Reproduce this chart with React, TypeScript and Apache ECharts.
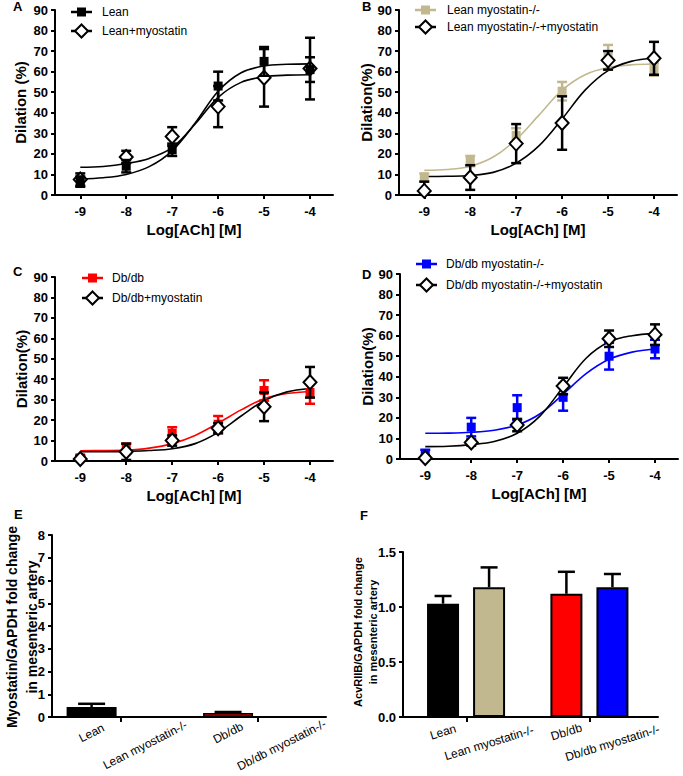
import React, { useEffect, useRef } from 'react';
import * as echarts from 'echarts';

// ---- data ----
const doses = [-9, -8, -7, -6, -5, -4];
const doseTicks = [-9, -8, -7, -6, -5, -4];
const curveX = [-9, -8.5, -8, -7.5, -7, -6.5, -6, -5.5, -5, -4.5, -4];

const aLeanMean = [6.5, 14, 22, 53, 65, 61];
const aLeanSem = [2.5, 3, 3, 7, 7, 6];
const aLeanCurve = [7.8, 8.4, 10, 13.8, 21.5, 35, 50.5, 59.5, 62.8, 63.6, 63.8];
const aMyoMean = [7.5, 18.5, 28.5, 43, 57, 61.5];
const aMyoSem = [3, 3, 4.5, 10, 14, 15];
const aMyoCurve = [13.5, 13.9, 15.3, 17.8, 23, 34.5, 47.5, 54.8, 57.5, 58.3, 58.5];

const bKoMean = [8.5, 16.5, 29, 50.5, 67, 61];
const bKoSem = [2, 2.5, 3.5, 4.5, 6, 3];
const bKoCurve = [12, 12.4, 14, 18.5, 27, 39, 51, 58.5, 62, 63.3, 63.7];
const bKoMyoMean = [2, 8.5, 25, 35, 65.5, 66.5];
const bKoMyoSem = [4.5, 6, 9.5, 13, 4.5, 8];
const bKoMyoCurve = [9, 9.1, 9.5, 11, 15.5, 24, 37, 51, 60.5, 65, 66.5];

const cDbMean = [1.5, 6, 13.5, 18, 34.5, 33.5];
const cDbSem = [1.5, 2.5, 3, 4, 5, 5.5];
const cDbCurve = [5, 5.1, 5.3, 6.3, 8.5, 12.5, 18.5, 25, 30.5, 33, 34];
const cDbMyoMean = [1, 4.5, 10, 16, 26.5, 38.5];
const cDbMyoSem = [1.5, 4, 2.5, 2.5, 7, 7.5];
const cDbMyoCurve = [4.5, 4.5, 4.7, 5.1, 6, 8.5, 14, 22, 29.5, 33.8, 35.5];

const dKoMean = [2.5, 15.5, 25, 30, 50, 53.5];
const dKoSem = [2, 4.5, 6, 6.5, 6.5, 4.5];
const dKoCurve = [12.5, 12.6, 13, 14, 16.5, 22, 31.5, 41.5, 48.5, 52, 53.5];
const dKoMyoMean = [0.5, 8, 16.5, 35.5, 58.5, 60.5];
const dKoMyoSem = [1, 1.5, 3, 4, 4, 5];
const dKoMyoCurve = [6, 6.2, 7, 8.5, 12.5, 21, 35, 49, 57, 60, 61];

const barCategories = ['Lean', 'Lean myostatin-/-', 'Db/db', 'Db/db myostatin-/-'];
const barColors = ['#000000', '#c2b88f', '#ff0000', '#0000ff'];
const eMean = [0.44, 0, 0.18, 0];
const eSem = [0.14, 0, 0.04, 0];
const fMean = [1.03, 1.18, 1.12, 1.18];
const fSem = [0.07, 0.18, 0.2, 0.12];

// ---- styling / layout ----
const FONT = '"Liberation Sans", Arial, sans-serif';
const TAN = '#c2b88f';

const errRender = (cap: number, width: number, color: string, both: boolean) => (params: any, api: any) => {
  const x = api.value(0);
  const lo = api.value(1);
  const hi = api.value(2);
  const p1 = api.coord([x, lo]);
  const p2 = api.coord([x, hi]);
  const style = { stroke: color, lineWidth: width, fill: 'none' };
  const children: any[] = [
    { type: 'line', shape: { x1: p1[0], y1: p1[1], x2: p2[0], y2: p2[1] }, style },
    { type: 'line', shape: { x1: p2[0] - cap / 2, y1: p2[1], x2: p2[0] + cap / 2, y2: p2[1] }, style },
  ];
  if (both) children.push({ type: 'line', shape: { x1: p1[0] - cap / 2, y1: p1[1], x2: p1[0] + cap / 2, y2: p1[1] }, style });
  return { type: 'group', children };
};

type Grp = { name: string; color: string; mean: number[]; sem: number[]; curve: number[] };
type LinePanel = {
  letter: string; lx: number; ly: number;
  grid: { left: number; top: number; width: number; height: number };
  yName: string; yGap: number;
  sq: Grp; dm: Grp; squaresOnTop: boolean;
  legend: { x: number; y: number; step: number; tx: number };
};

const linePanels: LinePanel[] = [
  {
    letter: 'A', lx: 18, ly: 7, grid: { left: 55, top: 10, width: 278, height: 185 }, yName: 'Dilation (%)', yGap: 27,
    sq: { name: 'Lean', color: '#000', mean: aLeanMean, sem: aLeanSem, curve: aLeanCurve },
    dm: { name: 'Lean+myostatin', color: '#000', mean: aMyoMean, sem: aMyoSem, curve: aMyoCurve },
    squaresOnTop: true, legend: { x: 71, y: 12, step: 19, tx: 102 },
  },
  {
    letter: 'B', lx: 367, ly: 7, grid: { left: 399, top: 10, width: 278, height: 185 }, yName: 'Dilation(%)', yGap: 24,
    sq: { name: 'Lean myostatin-/-', color: TAN, mean: bKoMean, sem: bKoSem, curve: bKoCurve },
    dm: { name: 'Lean myostatin-/-+myostatin', color: '#000', mean: bKoMyoMean, sem: bKoMyoSem, curve: bKoMyoCurve },
    squaresOnTop: false, legend: { x: 415, y: 10, step: 17, tx: 447 },
  },
  {
    letter: 'C', lx: 18, ly: 272, grid: { left: 55, top: 277, width: 278, height: 184 }, yName: 'Dilation(%)', yGap: 26,
    sq: { name: 'Db/db', color: '#ff0000', mean: cDbMean, sem: cDbSem, curve: cDbCurve },
    dm: { name: 'Db/db+myostatin', color: '#000', mean: cDbMyoMean, sem: cDbMyoSem, curve: cDbMyoCurve },
    squaresOnTop: false, legend: { x: 82, y: 278, step: 20, tx: 112 },
  },
  {
    letter: 'D', lx: 367, ly: 275, grid: { left: 400, top: 274, width: 278, height: 185 }, yName: 'Dilation(%)', yGap: 24,
    sq: { name: 'Db/db myostatin-/-', color: '#0000ff', mean: dKoMean, sem: dKoSem, curve: dKoCurve },
    dm: { name: 'Db/db myostatin-/-+myostatin', color: '#000', mean: dKoMyoMean, sem: dKoMyoSem, curve: dKoMyoCurve },
    squaresOnTop: false, legend: { x: 416, y: 264, step: 21, tx: 446 },
  },
];

const barPos = (gap: number) => barCategories.map((_, i) => i + (i >= 2 ? gap : 0));
const ePos = barPos(0.55);
const fPos = barPos(0.68);

const axisLineStyle = { color: '#000', width: 2 };

function buildOption() {
  const grid: any[] = [];
  const xAxis: any[] = [];
  const yAxis: any[] = [];
  const series: any[] = [];
  const graphic: any[] = [];

  linePanels.forEach((p, i) => {
    grid.push({ ...p.grid, outerBoundsMode: 'none', containLabel: false });
    xAxis.push({
      type: 'value', gridIndex: i, min: -9.55, max: -3.5,
      axisLine: { show: true, onZero: false, lineStyle: axisLineStyle },
      axisTick: { show: true, length: 4, lineStyle: { width: 2, color: '#000' }, customValues: doseTicks },
      axisLabel: { customValues: doseTicks, color: '#000', fontWeight: 'bold', fontSize: 13, margin: 10, fontFamily: FONT },
      splitLine: { show: false },
      name: 'Log[ACh] [M]', nameLocation: 'middle', nameGap: 27,
      nameTextStyle: { fontWeight: 'bold', fontSize: 15, color: '#000', fontFamily: FONT },
    });
    yAxis.push({
      type: 'value', gridIndex: i, min: 0, max: 90, interval: 10,
      axisLine: { show: true, onZero: false, lineStyle: axisLineStyle },
      axisTick: { show: true, length: 4, lineStyle: { width: 2, color: '#000' } },
      axisLabel: { color: '#000', fontWeight: 'bold', fontSize: 13, margin: 7, fontFamily: FONT },
      splitLine: { show: false },
      name: p.yName, nameLocation: 'middle', nameGap: p.yGap,
      nameTextStyle: { fontWeight: 'bold', fontSize: 15, color: '#000', fontFamily: FONT },
    });
    const ax = { xAxisIndex: i, yAxisIndex: i };
    [p.sq, p.dm].forEach((g) => {
      series.push({
        type: 'line', ...ax, name: g.name + ' fit', data: curveX.map((x, k) => [x, g.curve[k]]),
        smooth: 0.35, symbol: 'none', silent: true, z: 2,
        lineStyle: { color: g.color, width: 1.6 },
      });
    });
    const sqZ = p.squaresOnTop ? 6 : 3;
    const dmZ = p.squaresOnTop ? 3 : 6;
    series.push({
      type: 'custom', ...ax, name: p.sq.name + ' sem', clip: true, z: sqZ, silent: true,
      renderItem: errRender(10, 2.5, p.sq.color, true),
      data: doses.map((x, k) => [x, p.sq.mean[k] - p.sq.sem[k], p.sq.mean[k] + p.sq.sem[k]]),
    });
    series.push({
      type: 'scatter', ...ax, name: p.sq.name, symbol: 'rect', symbolSize: 9, z: sqZ + 1, silent: true,
      itemStyle: { color: p.sq.color, opacity: 1 },
      data: doses.map((x, k) => [x, p.sq.mean[k]]),
    });
    series.push({
      type: 'custom', ...ax, name: p.dm.name + ' sem', clip: true, z: dmZ, silent: true,
      renderItem: errRender(10, 2.5, p.dm.color, true),
      data: doses.map((x, k) => [x, p.dm.mean[k] - p.dm.sem[k], p.dm.mean[k] + p.dm.sem[k]]),
    });
    series.push({
      type: 'scatter', ...ax, name: p.dm.name, symbol: 'diamond', symbolSize: [13, 14], z: dmZ + 1, silent: true,
      itemStyle: { color: '#fff', borderColor: '#000', borderWidth: 2, opacity: 1 },
      data: doses.map((x, k) => [x, p.dm.mean[k]]),
    });

    // panel letter
    graphic.push({ type: 'text', left: p.lx - 5, top: p.ly - 7, style: { text: p.letter, fontSize: 13, fontWeight: 'bold', fontFamily: FONT, fill: '#000' } });
    // legend
    const L = p.legend;
    const y1 = L.y, y2 = L.y + L.step;
    const cx = L.x + 10.5;
    graphic.push({ type: 'line', shape: { x1: L.x, y1, x2: L.x + 21, y2: y1 }, style: { stroke: p.sq.color, lineWidth: 2.5 } });
    graphic.push({ type: 'rect', shape: { x: cx - 4.5, y: y1 - 4.5, width: 9, height: 9 }, style: { fill: p.sq.color } });
    graphic.push({ type: 'text', x: L.tx, y: y1, style: { text: p.sq.name, fontSize: 12, fontFamily: FONT, fill: '#000', verticalAlign: 'middle' } });
    graphic.push({ type: 'line', shape: { x1: L.x, y1: y2, x2: L.x + 21, y2 }, style: { stroke: '#000', lineWidth: 2.5 } });
    graphic.push({ type: 'polygon', shape: { points: [[cx, y2 - 6.5], [cx + 6.5, y2], [cx, y2 + 6.5], [cx - 6.5, y2]] }, style: { fill: '#fff', stroke: '#000', lineWidth: 2 } });
    graphic.push({ type: 'text', x: L.tx, y: y2, style: { text: p.dm.name, fontSize: 12, fontFamily: FONT, fill: '#000', verticalAlign: 'middle' } });
  });

  // ---- bar panels ----
  const barPanels = [
    {
      letter: 'E', lx: 19, ly: 515, grid: { left: 52, top: 535, width: 274, height: 182 }, pos: ePos,
      min: -0.74, max: 4.38, ticks: [ePos[0] + 0.55, ePos[2] + 0.55], mean: eMean, sem: eSem,
      yMax: 8, yInt: 1, fmt: (v: number) => String(v), barWidth: 50, cap: 27, border: 1.5, rotate: 27,
      shortMargin: 16, longMargin: 28, labelFont: 12,
      yLines: ['Myostatin/GAPDH fold change', 'in mesenteric artery'], yFont: 14, yLineX: [12, 32], ty: 627,
    },
    {
      letter: 'F', lx: 365, ly: 516, grid: { left: 403, top: 552, width: 255, height: 165 }, pos: fPos,
      min: -0.87, max: 4.67, ticks: [fPos[0] + 0.52, fPos[2] + 0.5], mean: fMean, sem: fSem,
      yMax: 1.5, yInt: 0.5, fmt: (v: number) => v.toFixed(1), barWidth: 32, cap: 17, border: 2, rotate: 17,
      shortMargin: 15, longMargin: 26, labelFont: 12,
      yLines: ['AcvRIIB/GAPDH fold change', 'in mesenteric artery'], yFont: 11, yLineX: [358, 373], ty: 632,
    },
  ];

  let axisIdx = 4;
  barPanels.forEach((b, j) => {
    const gi = 4 + j;
    grid.push({ ...b.grid, outerBoundsMode: 'none', containLabel: false });
    const shortPos = b.pos.filter((_, k) => barCategories[k].length <= 6);
    const longPos = b.pos.filter((_, k) => barCategories[k].length > 6);
    const labelFor = (v: number) => {
      const k = b.pos.findIndex((p) => Math.abs(p - v) < 0.01);
      return k < 0 ? '' : barCategories[k];
    };
    const labelBase = {
      formatter: labelFor, rotate: b.rotate, align: 'center', verticalAlign: 'middle',
      color: '#000', fontSize: b.labelFont, fontFamily: FONT,
    };
    const mainX = axisIdx;
    xAxis.push({
      type: 'value', gridIndex: gi, min: b.min, max: b.max, position: 'bottom',
      axisLine: { show: true, onZero: false, lineStyle: axisLineStyle },
      axisTick: { show: true, length: 5, lineStyle: { width: 2, color: '#000' }, customValues: b.ticks },
      axisLabel: { ...labelBase, customValues: shortPos, margin: b.shortMargin },
      splitLine: { show: false },
    });
    xAxis.push({
      type: 'value', gridIndex: gi, min: b.min, max: b.max, position: 'bottom', offset: 0,
      axisLine: { show: false, onZero: false },
      axisTick: { show: false },
      axisLabel: { ...labelBase, customValues: longPos, margin: b.longMargin },
      splitLine: { show: false },
    });
    axisIdx += 2;
    yAxis.push({
      type: 'value', gridIndex: gi, min: 0, max: b.yMax, interval: b.yInt,
      axisLine: { show: true, onZero: false, lineStyle: axisLineStyle },
      axisTick: { show: true, length: 4, lineStyle: { width: 2, color: '#000' } },
      axisLabel: { color: '#000', fontWeight: 'bold', fontSize: 13, margin: 7, fontFamily: FONT, formatter: b.fmt },
      splitLine: { show: false },
    });
    const ax = { xAxisIndex: mainX, yAxisIndex: gi };
    series.push({
      type: 'bar', ...ax, barWidth: b.barWidth, z: 2, silent: true,
      data: b.pos.map((x, k) => ({ value: [x, b.mean[k]], itemStyle: { color: barColors[k], borderColor: '#000', borderWidth: b.mean[k] > 0 ? b.border : 0 } })),
    });
    series.push({
      type: 'custom', ...ax, z: 3, silent: true, clip: false,
      renderItem: errRender(b.cap, 2.5, '#000', false),
      data: b.pos.map((x, k) => [x, b.mean[k], b.mean[k] + b.sem[k]]).filter((d, k) => b.mean[k] > 0),
    });
    graphic.push({ type: 'text', left: b.lx - 5, top: b.ly - 7, style: { text: b.letter, fontSize: 13, fontWeight: 'bold', fontFamily: FONT, fill: '#000' } });
    b.yLines.forEach((line, k) => {
      graphic.push({
        type: 'text', x: b.yLineX[k], y: b.ty, rotation: Math.PI / 2,
        style: { text: line, fontSize: b.yFont, fontWeight: 'bold', fontFamily: FONT, fill: '#000', align: 'center', verticalAlign: 'middle' },
      });
    });
  });

  return {
    animation: false,
    backgroundColor: '#fff',
    textStyle: { fontFamily: FONT },
    grid, xAxis, yAxis, series, graphic,
  };
}

export default function App() {
  const ref = useRef<HTMLDivElement>(null);
  useEffect(() => {
    document.body.style.margin = '0';
    const chart = echarts.init(ref.current!, undefined, { renderer: 'svg' });
    chart.setOption(buildOption() as any);
    return () => chart.dispose();
  }, []);
  return <div ref={ref} style={{ position: 'absolute', left: 0, top: 0, width: 683, height: 776, background: '#fff' }} />;
}
